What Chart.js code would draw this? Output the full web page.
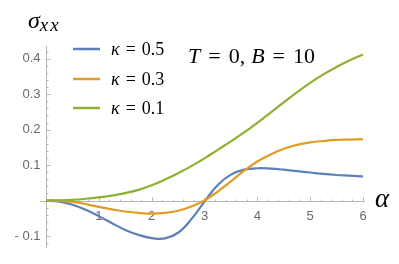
<!DOCTYPE html>
<html>
<head>
<meta charset="utf-8">
<script src="https://cdn.jsdelivr.net/npm/chart.js@4.4.0/dist/chart.umd.min.js"></script>
<style>
  html, body { margin: 0; padding: 0; background: #fff; }
</style>
</head>
<body>
<canvas id="sigmaChart" width="399" height="264"></canvas>
<script>
// valeurs (pas de 0.25 en alpha)
const alphaValues = [0, 0.25, 0.5, 0.75, 1, 1.25, 1.5, 1.75, 2, 2.25, 2.5, 2.75, 3,
  3.25, 3.5, 3.75, 4, 4.25, 4.5, 4.75, 5, 5.25, 5.5, 5.75, 6];
const kappa05 = [0, -0.003, -0.012, -0.026, -0.044, -0.064, -0.083, -0.097, -0.106, -0.107, -0.091, -0.053, -0.003,
  0.044, 0.073, 0.087, 0.091, 0.090, 0.087, 0.083, 0.079, 0.075, 0.072, 0.070, 0.068];
const kappa03 = [0, -0.001, -0.004, -0.010, -0.018, -0.025, -0.031, -0.035, -0.037, -0.035, -0.029, -0.017, 0,
  0.025, 0.054, 0.084, 0.110, 0.130, 0.146, 0.157, 0.164, 0.168, 0.171, 0.172, 0.173];
const kappa01 = [0, 0.0005, 0.002, 0.005, 0.009, 0.014, 0.021, 0.030, 0.043, 0.059, 0.077, 0.097, 0.119,
  0.143, 0.167, 0.192, 0.219, 0.248, 0.277, 0.305, 0.332, 0.356, 0.377, 0.396, 0.412];
const kappaLabels = ["0.5", "0.3", "0.1"];
const seriesColors = ["#5E81B5", "#E19C24", "#8FB032"];

const xTickValues = [1, 2, 3, 4, 5, 6];
const xTickLabels = ["1", "2", "3", "4", "5", "6"];
const yTickValues = [-0.1, 0.1, 0.2, 0.3, 0.4];
const yTickLabels = ["- 0.1", "0.1", "0.2", "0.3", "0.4"];

const SERIF = "'Liberation Serif', 'DejaVu Serif', serif";
const SANS = "'Liberation Sans', Arial, sans-serif";

function toPoints(ys) {
  return alphaValues.map(function (a, i) { return { x: a, y: ys[i] }; });
}

// petit texte en plusieurs morceaux (italique / droit)
function drawRuns(ctx, x, y, runs) {
  runs.forEach(function (r) {
    ctx.font = r.font;
    ctx.fillText(r.t, x, y + (r.dy || 0));
    x += ctx.measureText(r.t).width + (r.gap || 0);
  });
}

// axes a la Mathematica : lignes passant par l'origine, petites graduations
const axesPlugin = {
  id: "axesMathematica",
  beforeDatasetsDraw(chart) {
    const ctx = chart.ctx;
    const xs = chart.scales.x, ys = chart.scales.y;
    const area = chart.chartArea;
    const x0 = Math.round(xs.getPixelForValue(0)) + 0.5;
    const y0 = Math.round(ys.getPixelForValue(0)) + 0.5;
    ctx.save();
    ctx.strokeStyle = "#b8b8b8";
    ctx.lineWidth = 1;
    ctx.beginPath();
    ctx.moveTo(area.left, y0); ctx.lineTo(area.right, y0);
    ctx.moveTo(x0, area.top); ctx.lineTo(x0, area.bottom);
    // graduations en x
    for (let i = 1; i <= 30; i++) {
      const px = Math.round(xs.getPixelForValue(i * 0.2)) + 0.5;
      const len = (i % 5 === 0) ? 4 : 2;
      ctx.moveTo(px, y0); ctx.lineTo(px, y0 - len);
    }
    // graduations en y
    for (let j = -6; j <= 21; j++) {
      if (j === 0) continue;
      const py = Math.round(ys.getPixelForValue(j * 0.02)) + 0.5;
      const len = (j % 5 === 0) ? 4 : 2;
      ctx.moveTo(x0, py); ctx.lineTo(x0 + len, py);
    }
    ctx.stroke();

    ctx.fillStyle = "#6a6a6a";
    ctx.font = "13px " + SANS;
    ctx.textAlign = "center";
    ctx.textBaseline = "middle";
    xTickValues.forEach(function (v, i) {
      ctx.fillText(xTickLabels[i], xs.getPixelForValue(v), y0 + 15);
    });
    ctx.textAlign = "right";
    yTickValues.forEach(function (v, i) {
      ctx.fillText(yTickLabels[i], x0 - 6, ys.getPixelForValue(v));
    });
    ctx.restore();
  },
  afterDraw(chart) {
    const ctx = chart.ctx;
    const ys = chart.scales.y;
    const y0 = ys.getPixelForValue(0);
    ctx.save();
    ctx.fillStyle = "#000";
    ctx.textAlign = "left";
    ctx.textBaseline = "alphabetic";

    // titre de l'axe y
    drawRuns(ctx, 28, 28, [
      { t: "σ", font: "italic 24px " + SERIF, gap: 0 },
      { t: "x", font: "italic 19px " + SERIF, dy: 3, gap: 2 },
      { t: "x", font: "italic 19px " + SERIF, dy: 3 }
    ]);
    // titre de l'axe x
    ctx.font = "italic 27px " + SERIF;
    ctx.fillText("α", 375, y0 + 6);

    // annotation
    drawRuns(ctx, 188, 63, [
      { t: "T", font: "italic 22px " + SERIF, gap: 8 },
      { t: "=", font: "22px " + SERIF, gap: 8 },
      { t: "0,", font: "22px " + SERIF, gap: 6 },
      { t: "B", font: "italic 22px " + SERIF, gap: 8 },
      { t: "=", font: "22px " + SERIF, gap: 8 },
      { t: "10", font: "22px " + SERIF }
    ]);

    // legende
    const rows = [49, 79, 108];
    rows.forEach(function (ry, i) {
      ctx.strokeStyle = seriesColors[i];
      ctx.lineWidth = 2.5;
      ctx.beginPath();
      ctx.moveTo(73, ry); ctx.lineTo(100, ry);
      ctx.stroke();
      ctx.fillStyle = "#000";
      drawRuns(ctx, 111, ry + 6, [
        { t: "κ", font: "italic 18px " + SERIF, gap: 6 },
        { t: "=", font: "18px " + SERIF, gap: 6 },
        { t: kappaLabels[i], font: "18px " + SERIF }
      ]);
    });
    ctx.restore();
  }
};

const ctx = document.getElementById("sigmaChart").getContext("2d");
new Chart(ctx, {
  type: "line",
  data: {
    datasets: [
      { label: "κ = 0.5", data: toPoints(kappa05), borderColor: seriesColors[0], order: 3 },
      { label: "κ = 0.3", data: toPoints(kappa03), borderColor: seriesColors[1], order: 2 },
      { label: "κ = 0.1", data: toPoints(kappa01), borderColor: seriesColors[2], order: 1 }
    ]
  },
  options: {
    responsive: false,
    animation: false,
    layout: { padding: { left: 40, right: 34, top: 46, bottom: 16 } },
    elements: {
      line: { borderWidth: 2.2, tension: 0.4, fill: false },
      point: { radius: 0, hoverRadius: 0 }
    },
    plugins: { legend: { display: false }, tooltip: { enabled: false } },
    scales: {
      x: { type: "linear", min: -0.1136, max: 6.038, display: false },
      y: { type: "linear", min: -0.134, max: 0.436, display: false }
    }
  },
  plugins: [axesPlugin]
});
</script>
</body>
</html>
